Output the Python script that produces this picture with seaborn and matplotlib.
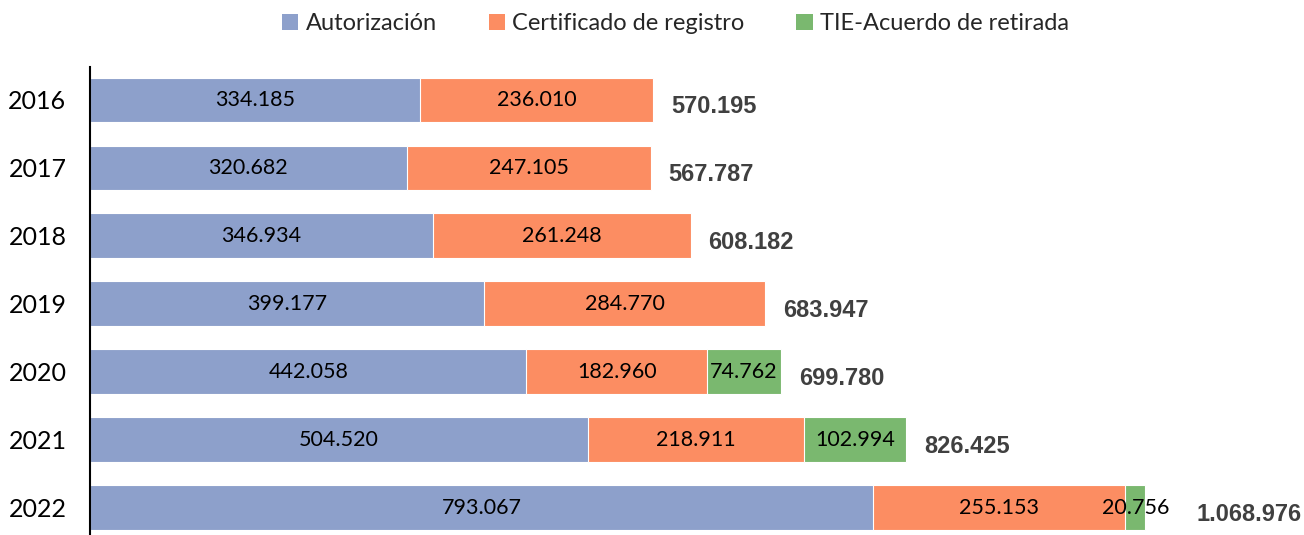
import pandas as pd
import matplotlib.pyplot as plt
import seaborn as sns
from matplotlib.patches import Patch

sns.set_theme(style="white")
plt.rcParams["font.family"] = ["Lato", "DejaVu Sans"]

# Data
years = ["2016", "2017", "2018", "2019", "2020", "2021", "2022"]
autorizacion = [334185, 320682, 346934, 399177, 442058, 504520, 793067]
certificado = [236010, 247105, 261248, 284770, 182960, 218911, 255153]
tie_acuerdo = [0, 0, 0, 0, 74762, 102994, 20756]
series_names = ["Autorización", "Certificado de registro", "TIE-Acuerdo de retirada"]
colors = ["#8DA0CB", "#FC8D62", "#7AB86F"]

df = pd.DataFrame({"year": years, "a": autorizacion, "c": certificado, "t": tie_acuerdo})
df["ac"] = df["a"] + df["c"]
df["total"] = df["ac"] + df["t"]

def fmt(v):
    return f"{v:,}".replace(",", ".")

fig = plt.figure(figsize=(13.04, 5.35), dpi=100)
ax = fig.add_axes([90 / 1304, 0, 1214 / 1304, 468 / 535])

# stacked by overlaying cumulative bars
for col, c in zip(["total", "ac", "a"], colors[::-1]):
    sns.barplot(data=df, y="year", x=col, color=c, saturation=1, orient="h", width=0.66,
                edgecolor="white", linewidth=0.8, ax=ax)

for i, row in df.iterrows():
    ax.text(row["a"] / 2, i, fmt(row["a"]), ha="center", va="center", fontsize=15.5, color="black")
    ax.text(row["a"] + row["c"] / 2, i, fmt(row["c"]), ha="center", va="center", fontsize=15.5, color="black")
    if row["t"] > 0:
        ax.text(row["ac"] + row["t"] / 2, i, fmt(row["t"]), ha="center", va="center", fontsize=15.5, color="black")
    # last total label sits further right, past the overflowing small-segment label
    dx = 37 if i == len(df) - 1 else 13
    ax.annotate(fmt(row["total"]), (row["total"], i), xytext=(dx, -5), textcoords="offset points",
                ha="left", va="center", fontsize=17, fontweight="bold", color="#404040",
                family=["Liberation Sans", "DejaVu Sans"])

ax.set_xlim(0, 1229500)
ax.set_ylim(6.4, -0.485)
ax.set_xlabel("")
ax.set_ylabel("")
ax.set_xticks([])
ax.tick_params(axis="y", labelsize=18, length=0, pad=17, colors="#000000")
for s in ["top", "right", "bottom"]:
    ax.spines[s].set_visible(False)
ax.spines["left"].set_color("black")
ax.spines["left"].set_linewidth(1.5)

handles = [Patch(facecolor=c, edgecolor="none") for c in colors]
fig.legend(handles, series_names, loc="upper center", bbox_to_anchor=(0.518, 1.015), ncol=3,
           frameon=False, fontsize=17, handlelength=0.7, handleheight=0.7,
           handletextpad=0.3, columnspacing=2.2)

fig.savefig("out.png", dpi=100)
